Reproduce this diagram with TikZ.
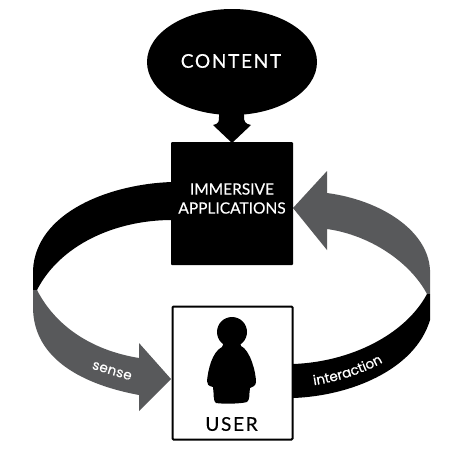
\documentclass[tikz,border=0pt]{standalone}
\usepackage{fontspec}
\setmainfont[FakeBold=0.35]{Lato}
\newfontfamily\spaced[LetterSpace=9,FakeBold=0.5]{Lato}
\newfontfamily\curvedfont[FakeBold=0.6,LetterSpace=2]{Poppins}
\usetikzlibrary{decorations.text}
\definecolor{arrowgrey}{HTML}{58595B}
\tikzset{
  blackshape/.style={fill=black,draw=none},
  greyshape/.style={fill=arrowgrey,draw=none},
  label/.style={text=white,inner sep=0pt,align=center},
}
\begin{document}
\begin{tikzpicture}[x=1pt,y=-1pt]
\useasboundingbox (0,0) rectangle (468,467);
% content
\fill[black] (232,62) ellipse [x radius=85, y radius=53];
\fill[black] (219,110) -- (244,110) -- (244,117) .. controls (244,121) and (245,124) .. (251,125) -- (232,143) -- (213,125) .. controls (219,124) and (219,121) .. (219,117) -- cycle;
\node[label,font=\spaced\fontsize{19}{19}\selectfont] (content) at (231,61) {CONTENT};
% left band
\path[blackshape] (172,182) .. controls (110,184) and (36,212) .. (33,270) -- (33,290) -- (37,290) .. controls (60,245) and (115,220) .. (172,220) -- cycle;
\path[greyshape] (33,290) -- (37,290) .. controls (55,325) and (90,350) .. (139,358) -- (139,343) -- (171,379) -- (139,411) -- (139,395) .. controls (85,385) and (33,360) .. (33,307) -- cycle;
% right band
\path[greyshape] (293,208) -- (327,171) -- (327,193) .. controls (380,200) and (428,230) .. (430,270) -- (430,294) -- (427,294) .. controls (410,262) and (370,235) .. (327,229) -- (327,250) -- cycle;
\path[blackshape] (427,294) -- (430,294) -- (430,320) .. controls (415,370) and (350,396) .. (293,398) -- (293,364) .. controls (350,362) and (405,335) .. (427,294) -- cycle;
% boxes
\node[fill=black,minimum width=122pt,minimum height=123pt,inner sep=0pt,rounded corners=1pt] (apps) at (232,203.5) {};
\node[draw=black,fill=white,line width=2pt,minimum width=120pt,minimum height=133pt,inner sep=0pt,rounded corners=1pt] (user) at (232.5,373) {};
\node[label,font=\fontsize{15.5}{19}\selectfont] (appstext) at (232,198.5) {IMMERSIVE\\APPLICATIONS};
\node[text=black,inner sep=0pt,font=\spaced\fontsize{19}{19}\selectfont] (usertext) at (231.5,424) {USER};
% person
\fill[black] (232,332) circle [radius=15];
\fill[black] (225,340) -- (239,340) -- (241,346) .. controls (250,350) and (256,372) .. (256,382) .. controls (256,386) and (252,387) .. (250,388) .. controls (249,394) and (250,400) .. (247,402) .. controls (240,404) and (222,404) .. (216,403) .. controls (213,402) and (214,393) .. (213,387) .. controls (208,386) and (207,384) .. (207,381) .. controls (208,370) and (212,352) .. (222,347) -- cycle;
% arrow labels
\node[label,font=\curvedfont\fontsize{13.5}{14}\selectfont,rotate=-17] (sense) at (112,371) {sense};
\path[postaction={decorate,decoration={text along path,text align=center,text={|\curvedfont\fontsize{13.5}{14}\selectfont\color{white}|interaction}}}] (300,387) .. controls (330,384) and (365,375) .. (395,355);
\end{tikzpicture}
\end{document}
